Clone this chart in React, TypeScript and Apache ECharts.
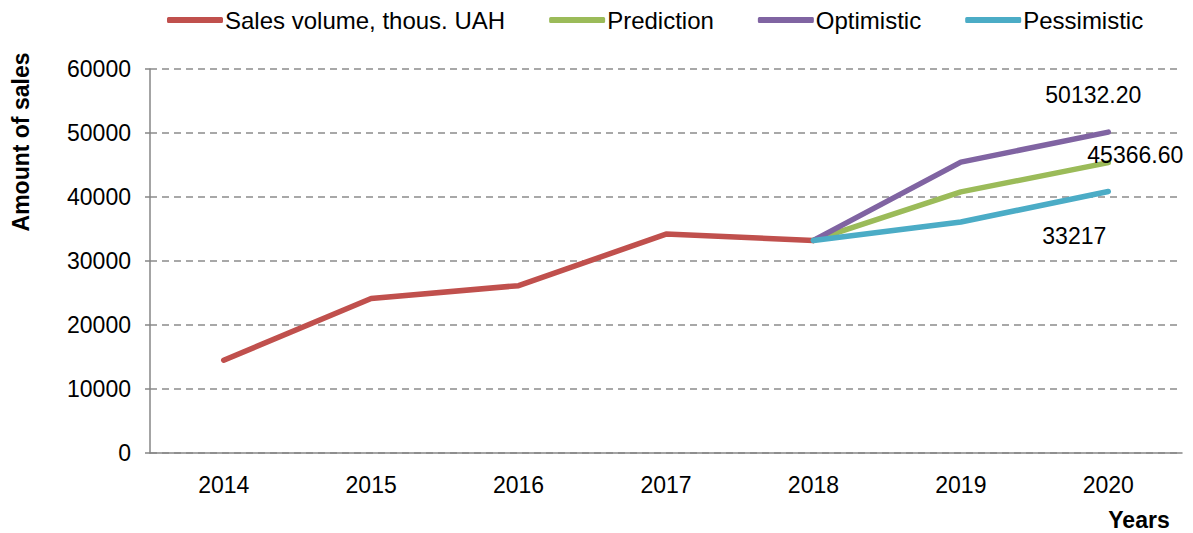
import React, { useEffect, useRef } from "react";
import * as echarts from "echarts";

const years = ["2014", "2015", "2016", "2017", "2018", "2019", "2020"];
const salesVolume = [14500, 24150, 26150, 34200, 33217, null, null];
const prediction = [null, null, null, null, 33217, 40800, 45366.6];
const optimistic = [null, null, null, null, 33217, 45450, 50132.2];
const pessimistic = [null, null, null, null, 33217, 36100, 40850];
const endLabels = ["45366.60", "50132.20", "33217"];

const FONT = "Arial, 'Liberation Sans', Helvetica, sans-serif";

export default function App() {
  const ref = useRef<HTMLDivElement>(null);
  useEffect(() => {
    if (!ref.current) return;
    const chart = echarts.init(ref.current, null, { renderer: "svg" });
    const withLabel = (arr: (number | null)[], text: string, label: any) =>
      arr.map((v, i) =>
        i === arr.length - 1
          ? { value: v, label: { show: true, formatter: () => text, ...label } }
          : v
      );
    const lineSeries = (name: string, color: string, data: any[]) => ({
      name,
      type: "line",
      data,
      showSymbol: true,
      symbol: "circle",
      symbolSize: 0.1,
      itemStyle: { color },
      lineStyle: { color, width: 5.5, cap: "round", join: "round" },
      label: {
        show: false,
        color: "#000",
        fontSize: 23,
        fontFamily: FONT,
      },
      emphasis: { disabled: true },
      connectNulls: false,
    });
    chart.setOption({
      animation: false,
      textStyle: { fontFamily: FONT },
      legend: {
        top: 3,
        left: 162,
        itemWidth: 56,
        itemHeight: 6,
        itemGap: 44,
        icon: "roundRect",
        textStyle: { fontSize: 24, color: "#000", fontFamily: FONT, padding: [0, 0, 0, -3] },
        data: ["Sales volume, thous. UAH", "Prediction", "Optimistic", "Pessimistic"],
      },
      grid: { left: 150, right: 11, top: 69, bottom: 80, containLabel: false },
      xAxis: {
        type: "category",
        data: years,
        boundaryGap: true,
        axisLine: { lineStyle: { color: "#868686", width: 1.5 } },
        axisTick: { show: false },
        axisLabel: { fontSize: 23, color: "#000", margin: 20, fontFamily: FONT },
        splitLine: { show: false },
      },
      yAxis: {
        type: "value",
        min: 0,
        max: 60000,
        interval: 10000,
        axisLine: { show: true, lineStyle: { color: "#868686", width: 1.5 } },
        axisTick: { show: true, length: 5, lineStyle: { color: "#868686", width: 1.5 } },
        axisLabel: {
          fontSize: 23,
          color: "#000",
          margin: 19,
          fontFamily: FONT,
          formatter: (v: number) => String(v),
        },
        splitLine: { show: true, lineStyle: { color: "#8c8c8c", type: [7, 5], width: 1.5 } },
      },
      graphic: [
        {
          type: "text",
          x: 21,
          y: 142,
          rotation: Math.PI / 2,
          style: {
            text: "Amount of sales",
            font: `bold 23px ${FONT}`,
            fill: "#000",
            align: "center",
            verticalAlign: "middle",
          },
        },
        {
          type: "text",
          x: 1139,
          y: 520,
          style: {
            text: "Years",
            font: `bold 23px ${FONT}`,
            fill: "#000",
            align: "center",
            verticalAlign: "middle",
          },
        },
      ],
      series: [
        lineSeries("Sales volume, thous. UAH", "#C0504D", salesVolume),
        lineSeries(
          "Prediction",
          "#9BBB59",
          withLabel(prediction, endLabels[0], { position: "inside", offset: [27, -8] })
        ),
        lineSeries(
          "Optimistic",
          "#8064A2",
          withLabel(optimistic, endLabels[1], { position: "inside", offset: [-15, -37] })
        ),
        lineSeries(
          "Pessimistic",
          "#4BACC6",
          withLabel(pessimistic, endLabels[2], { position: "inside", offset: [-34, 44] })
        ),
      ],
    });
    return () => chart.dispose();
  }, []);
  return <div ref={ref} style={{ width: 1193, height: 533, position: "absolute", left: 0, top: 0 }} />;
}
